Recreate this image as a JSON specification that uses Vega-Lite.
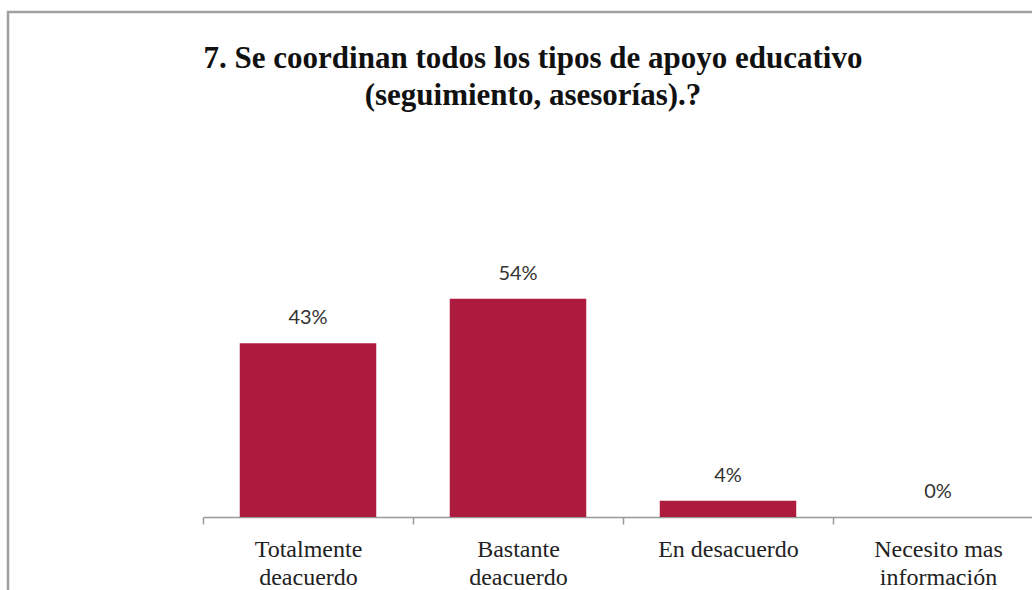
{
  "$schema": "https://vega.github.io/schema/vega-lite/v6.json",
  "autosize": "none",
  "padding": {"left": 8, "top": 12, "right": 0, "bottom": 0},
  "width": 1040,
  "height": 600,
  "background": "white",
  "config": {
    "view": {"stroke": "#a0a0a0", "strokeWidth": 2.5}
  },
  "title": {
    "text": ["7. Se coordinan  todos los tipos de apoyo educativo", "(seguimiento, asesorías).?"],
    "font": "Liberation Serif",
    "fontSize": 31,
    "fontWeight": "bold",
    "color": "#111111",
    "anchor": "middle",
    "frame": "group",
    "baseline": "top",
    "lineHeight": 37,
    "offset": 0,
    "dx": 5,
    "dy": 100
  },
  "data": {
    "values": [
      {"categoria": "Totalmente|deacuerdo", "porcentaje": 43, "etiqueta": "43%"},
      {"categoria": "Bastante|deacuerdo", "porcentaje": 54, "etiqueta": "54%"},
      {"categoria": "En desacuerdo", "porcentaje": 4, "etiqueta": "4%"},
      {"categoria": "Necesito mas|información", "porcentaje": 0, "etiqueta": "0%"}
    ]
  },
  "encoding": {
    "x": {
      "field": "categoria",
      "type": "nominal",
      "sort": null,
      "scale": {"range": [195, 1035], "paddingInner": 0.35, "paddingOuter": 0.175},
      "axis": {
        "title": null,
        "labelAngle": 0,
        "labelExpr": "split(datum.label, '|')",
        "labelFont": "Liberation Serif",
        "labelFontSize": 24,
        "labelColor": "#222222",
        "labelLineHeight": 28,
        "labelPadding": 13,
        "labelBaseline": "top",
        "tickOffset": -105,
        "labelOffset": 105,
        "tickSize": 7,
        "tickColor": "#999999",
        "tickWidth": 1.5,
        "domainColor": "#999999",
        "domainWidth": 1.5,
        "offset": -95
      }
    },
    "y": {
      "field": "porcentaje",
      "type": "quantitative",
      "scale": {"domain": [0, 100], "range": [505, 101]},
      "axis": null
    }
  },
  "layer": [
    {"mark": {"type": "bar", "color": "#ad1c3f"}},
    {
      "mark": {"type": "text", "baseline": "middle", "dy": -25, "font": "Lato", "fontSize": 20, "color": "#333333"},
      "encoding": {"text": {"field": "etiqueta"}}
    }
  ]
}
